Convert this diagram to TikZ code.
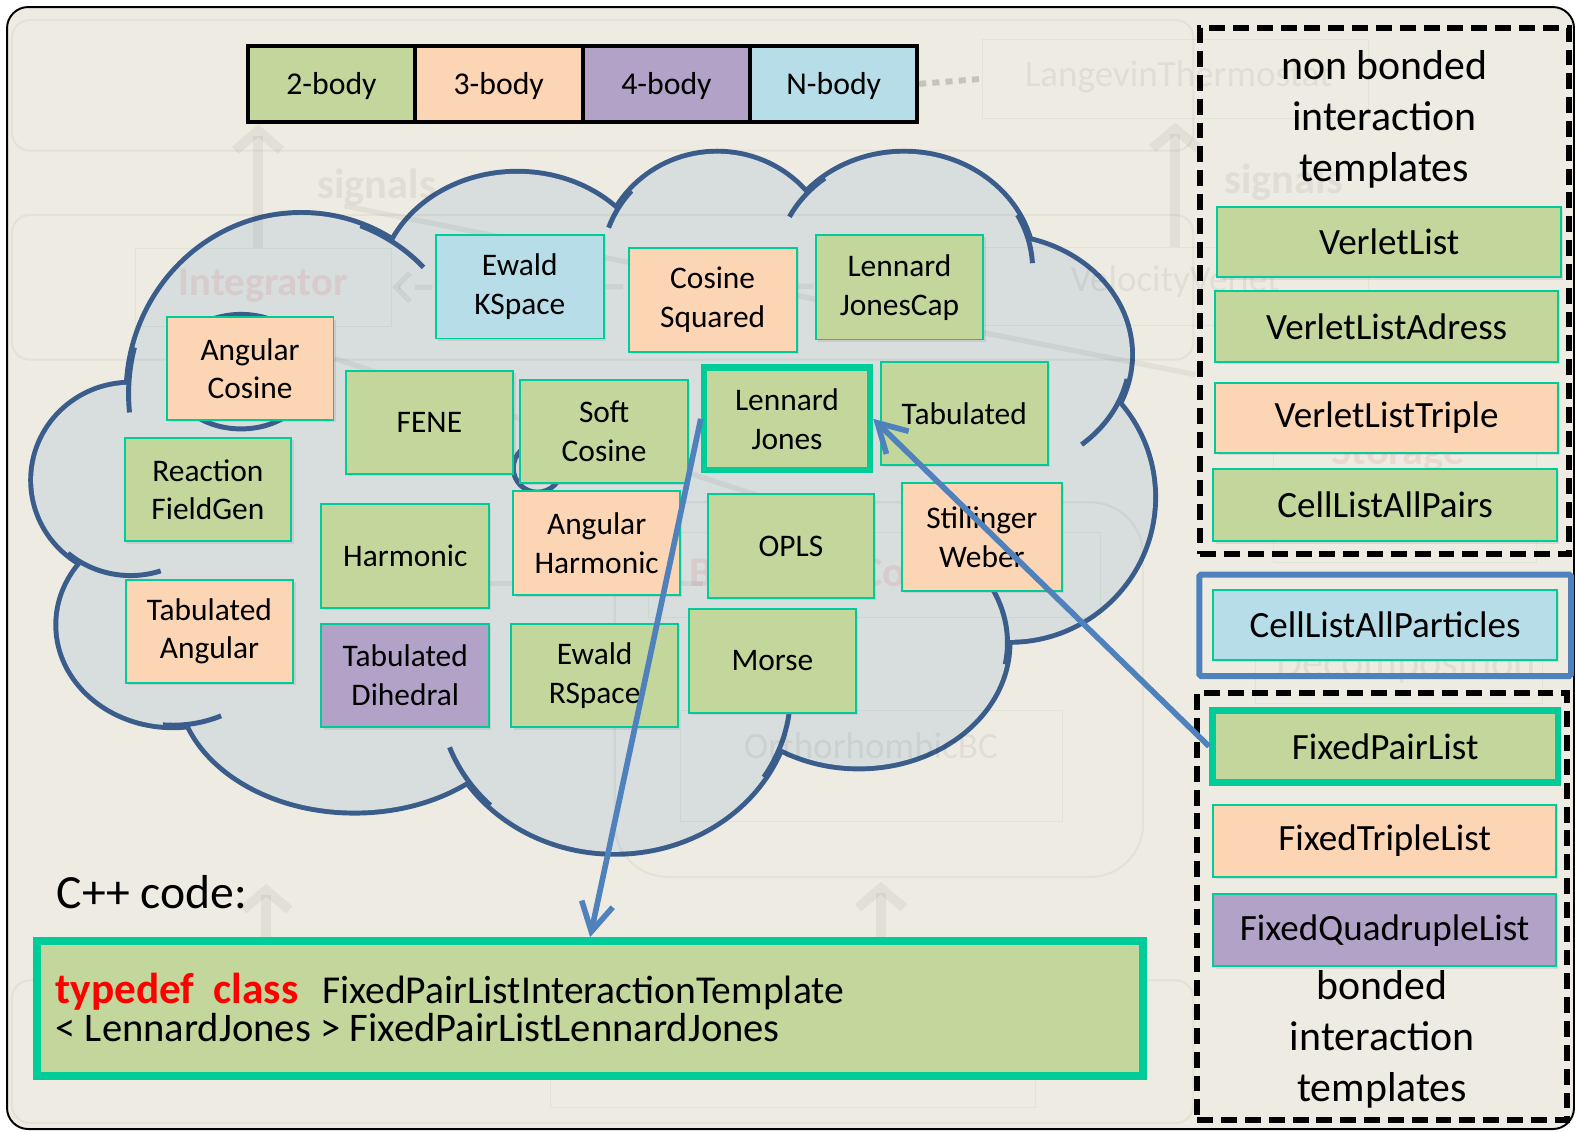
\documentclass[tikz,border=0pt]{standalone}
\usepackage{fontspec}
\setmainfont{Carlito}
\usetikzlibrary{arrows.meta,shadows}

\definecolor{pagebg}{HTML}{EEECE2}
\definecolor{gfill}{HTML}{C3D69B}
\definecolor{ofill}{HTML}{FCD5B5}
\definecolor{pfill}{HTML}{B3A2C7}
\definecolor{bfill}{HTML}{B7DEE8}
\definecolor{tealedge}{HTML}{00CC99}
\definecolor{cloudfill}{HTML}{D8DDDD}
\definecolor{cloudedge}{HTML}{3A5D8B}
\definecolor{linkblue}{HTML}{4F81BD}
\definecolor{dotgray}{HTML}{C5C3BB}

% a box given by its two corners (x1,y1) (x2,y2)
\newcommand\mkbox[7]{%
  \node[#6, minimum width={(#4-#2)*0.02cm}, minimum height={(#5-#3)*0.02cm}]
    (#1) at ({(#2+#4)/2},{(#3+#5)/2}) {#7};}

\tikzset{
  card/.style={draw=tealedge, line width=1.1pt, inner sep=0pt, align=center,
    font=\fontsize{17.8}{22}\selectfont,
    drop shadow={shadow xshift=1.3pt, shadow yshift=-1.3pt, opacity=0.18}},
  gcard/.style={card, fill=gfill},
  ocard/.style={card, fill=ofill},
  pcard/.style={card, fill=pfill},
  bcard/.style={card, fill=bfill},
  keycard/.style={line width=3.8pt},
  listfont/.style={font=\fontsize{21}{25}\selectfont},
  cell/.style={draw=black, line width=2.3pt, inner sep=0pt,
    font=\fontsize{18}{22}\selectfont, text depth=0.05em},
  group/.style={draw=black, line width=3.4pt, dash pattern=on 9pt off 4.5pt, inner sep=0pt},
  bluegroup/.style={draw=linkblue, line width=3.4pt, rounded corners=1pt, inner sep=0pt},
  head/.style={font=\fontsize{23.7}{29}\selectfont, align=center, inner sep=0pt},
  link/.style={draw=linkblue, line width=3.2pt,
    -{Straight Barb[length=16pt, width=18pt]}},
  faintline/.style={draw=black, draw opacity=0.045, line width=1.2pt},
  faintbar/.style={draw=black, draw opacity=0.05, line width=3pt},
  faintarrow/.style={draw=black, draw opacity=0.05, line width=5.5pt,
    -{Straight Barb[length=11pt, width=26pt]}},
  faintbox/.style={draw=green!40!black, draw opacity=0.06, inner sep=0pt},
  fainttext/.style={text=black, text opacity=0.06, inner sep=0pt},
  faintred/.style={text=red!80!black, text opacity=0.08, inner sep=0pt},
}

\begin{document}
\begin{tikzpicture}[x=0.02cm, y=-0.02cm]
\useasboundingbox (0,0) rectangle (1568,1126);
\fill[white] (0,0) rectangle (1568,1126);
\draw[line width=1.1pt, fill=pagebg, rounded corners=12pt] (7,7) rectangle (1567,1124);

% ---------- cloud of potentials ----------
\foreach \cx/\cy/\rx/\ry in {300/392/172/178, 515/290/136/117, 714/265/115/112,
    900/268/128/115, 990/353/135/117, 1005/495/143/142, 855/640/148/123,
    612/690/175/158, 353/680/174/127, 172/622/114/100, 130/478/97/95}
  \draw[cloudedge, line width=5.6pt] (\cx,\cy) ellipse[x radius=\rx, y radius=\ry];
\fill[cloudfill] (300,392) -- (515,290) -- (714,265) -- (900,268) -- (990,353)
  -- (1005,495) -- (855,640) -- (612,690) -- (353,680) -- (172,622) -- (130,478) -- cycle;
\foreach \cx/\cy/\rx/\ry in {300/392/172/178, 515/290/136/117, 714/265/115/112,
    900/268/128/115, 990/353/135/117, 1005/495/143/142, 855/640/148/123,
    612/690/175/158, 353/680/174/127, 172/622/114/100, 130/478/97/95}
  \fill[cloudfill] (\cx,\cy) ellipse[x radius=\rx, y radius=\ry];
% inner ends of the lobes
\foreach \cx/\cy/\rx/\ry/\ta/\tb in {300/392/172/178/-70/-45, 300/392/172/178/-165/-186,
    714/265/115/112/222/200, 900/268/128/115/232/207, 900/268/128/115/-28/-3,
    990/353/135/117/12/50, 855/640/148/123/10/-25, 612/690/175/158/32/5,
    612/690/175/158/135/160, 172/622/114/100/95/65, 130/478/97/95/130/72}
  \draw[cloudedge, line width=2.8pt] ({\cx+\rx*cos(\ta)},{\cy+\ry*sin(\ta)})
    arc[start angle=\ta, end angle=\tb, x radius=\rx, y radius=\ry];
\draw[cloudedge, line width=2.8pt] (240,370) ellipse[x radius=72, y radius=57];
\draw[cloudedge, line width=2.8pt] (535,466) circle[radius=24];

% ---------- faded architecture layer ----------
\draw[faintline, rounded corners=10pt] (12,20) rectangle (1188,150);
\draw[faintline, rounded corners=10pt] (12,214) rectangle (1188,358);
\draw[faintline, rounded corners=30pt] (612,500) rectangle (1138,873);
\draw[faintline, rounded corners=10pt] (12,976) rectangle (1188,1118);
\mkbox{intbox}{135}{247}{390}{325}{faintbox}{}
\mkbox{lvbox}{978}{39}{1362}{118}{faintbox}{}
\mkbox{vvbox}{978}{246}{1362}{324}{faintbox}{}
\mkbox{bcbox}{645}{530}{1095}{615}{faintbox}{}
\mkbox{obcbox}{677}{707}{1058}{818}{faintbox}{}
\mkbox{stbox}{1268}{415}{1530}{560}{faintbox}{}
\mkbox{dcbox}{1250}{625}{1535}{700}{faintbox}{}
\mkbox{lowbox}{548}{1000}{1031}{1102}{faintbox}{}
\node[fainttext, font=\bfseries\fontsize{24}{28}\selectfont] (sig1) at (375,186) {signals};
\node[fainttext, font=\bfseries\fontsize{24}{28}\selectfont] (sig2) at (1278,181) {signals};
\node[faintred, font=\bfseries\fontsize{23}{28}\selectfont] (inttext) at (262,285) {Integrator};
\node[fainttext, font=\fontsize{21}{25}\selectfont] (lvtext) at (1173,76) {LangevinThermostat};
\node[fainttext, font=\fontsize{21}{25}\selectfont] (vvtext) at (1170,280) {VelocityVerlet};
\node[faintred, font=\bfseries\fontsize{24}{28}\selectfont] (sttext) at (1392,452) {Storage};
\node[fainttext, font=\fontsize{24}{28}\selectfont] (dctext) at (1400,662) {Decomposition};
\node[faintred, font=\bfseries\fontsize{24}{28}\selectfont, anchor=west] (bctext) at (686,572) {BoundaryConditions};
\node[fainttext, font=\fontsize{21}{25}\selectfont] (obctext) at (867,742) {OrthorhombicBC};
\coordinate (fa1) at (257,247); \coordinate (fb1) at (257,124);
\coordinate (fa2) at (1170,246); \coordinate (fb2) at (1170,122);
\coordinate (fa3) at (265,935); \coordinate (fb3) at (265,880);
\coordinate (fa4) at (877,935); \coordinate (fb4) at (877,878);
\draw[faintarrow] (fa1) -- (fb1);
\draw[faintarrow] (fa2) -- (fb2);
\draw[faintarrow] (fa3) -- (fb3);
\draw[faintarrow] (fa4) -- (fb4);
\coordinate (fs1) at (343,205); \coordinate (fe1) at (1190,373);
\coordinate (fs2) at (333,357); \coordinate (fe2) at (760,495);
\coordinate (fs3) at (470,581); \coordinate (fe3) at (700,581);
\draw[faintbar] (fs1) -- (fe1);
\draw[faintbar] (fs2) -- (fe2);
\draw[faintbar] (fs3) -- (fe3);
\coordinate (fd) at (810,285);
\draw[faintbar, dash pattern=on 10pt off 8pt, -{Straight Barb[length=8pt, width=16pt]}] (fd) -- (intbox.east);

% ---------- legend ----------
\mkbox{two}{247}{46}{413}{121}{cell, fill=gfill}{2-body}
\mkbox{three}{413}{46}{580}{121}{cell, fill=ofill}{3-body}
\mkbox{four}{580}{46}{747}{121}{cell, fill=pfill}{4-body}
\mkbox{nbody}{747}{46}{913}{121}{cell, fill=bfill}{N-body}
\draw[dotgray, line width=3.4pt, dash pattern=on 4pt off 3.5pt] (nbody.east) -- (lvbox.west);

% ---------- potentials ----------
\mkbox{ewk}{434}{234}{601}{337}{bcard}{Ewald\\KSpace}
\mkbox{cossq}{626}{247}{793}{350}{ocard}{Cosine\\Squared}
\mkbox{ljcap}{812}{234}{979}{338}{gcard}{Lennard\\JonesCap}
\mkbox{angcos}{166}{316}{332}{418}{ocard}{Angular\\Cosine}
\mkbox{fene}{344}{369}{511}{472}{gcard}{FENE}
\mkbox{softcos}{518}{378}{685}{481}{gcard}{Soft\\Cosine}
\mkbox{tab}{877}{360}{1043}{463}{gcard}{Tabulated}
\mkbox{rfg}{124}{436}{290}{539}{gcard}{Reaction\\FieldGen}
\mkbox{harm}{320}{502}{487}{605}{gcard}{Harmonic}
\mkbox{angharm}{511}{489}{677}{592}{ocard}{Angular\\Harmonic}
\mkbox{opls}{705}{492}{870}{595}{gcard}{OPLS}
\mkbox{sw}{898}{481}{1057}{588}{ocard}{Stillinger\\Weber}
\mkbox{tabang}{125}{577}{292}{680}{ocard}{Tabulated\\Angular}
\mkbox{tabdih}{320}{621}{487}{724}{pcard}{Tabulated\\Dihedral}
\mkbox{ewr}{509}{621}{675}{724}{gcard}{Ewald\\RSpace}
\mkbox{morse}{686}{606}{852}{710}{gcard}{Morse}
\mkbox{lj}{701}{366}{866}{468}{gcard, keycard}{Lennard\\Jones}

% ---------- non bonded templates ----------
\mkbox{nbgroup}{1195}{28}{1562}{552}{group}{}
\node[head] (nbhead) at (1378,119) {non bonded\\interaction\\templates};
\mkbox{vl}{1212}{206}{1554}{276}{gcard, listfont}{VerletList}
\mkbox{vla}{1210}{290}{1551}{360}{gcard, listfont}{VerletListAdress}
\mkbox{vlt}{1210}{381}{1551}{451}{ocard, listfont}{VerletListTriple}
\mkbox{clap}{1208}{467}{1550}{539}{gcard, listfont}{CellListAllPairs}
\mkbox{cpgroup}{1194}{572}{1564}{673}{bluegroup}{}
\mkbox{clapart}{1208}{587}{1550}{657}{bcard, listfont}{CellListAllParticles}

% ---------- bonded templates ----------
\mkbox{bgroup}{1192}{690}{1560}{1115}{group}{}
\mkbox{fpl}{1207}{707}{1551}{779}{gcard, listfont, keycard}{FixedPairList}
\mkbox{ftl}{1208}{801}{1549}{873}{ocard, listfont}{FixedTripleList}
\mkbox{fql}{1208}{890}{1549}{962}{pcard, listfont}{FixedQuadrupleList}
\node[head] (bhead) at (1376,1035) {bonded\\interaction\\templates};

% ---------- C++ code ----------
\node[anchor=base west, inner sep=0pt, font=\fontsize{27}{32}\selectfont] (cpplabel) at (56,904) {C++ code:};
\mkbox{code}{37}{937}{1138}{1071}{card, fill=gfill, line width=4.6pt}{}
\node[anchor=base west, inner sep=0pt, font=\fontsize{22.4}{27}\selectfont] (codeA) at (55,999)
  {\textcolor{red}{\fontsize{24.5}{27}\selectfont\bfseries typedef\hspace{0.45em}class}\hspace{0.6em}FixedPairListInteractionTemplate};
\node[anchor=base west, inner sep=0pt, font=\fontsize{23}{27}\selectfont] (codeB) at (55,1037)
  {< LennardJones > FixedPairListLennardJones};

% ---------- links ----------
\draw[link] (lj.west) -- (code.north);
\draw[link] (fpl.west) -- (lj.east);
\end{tikzpicture}
\end{document}
